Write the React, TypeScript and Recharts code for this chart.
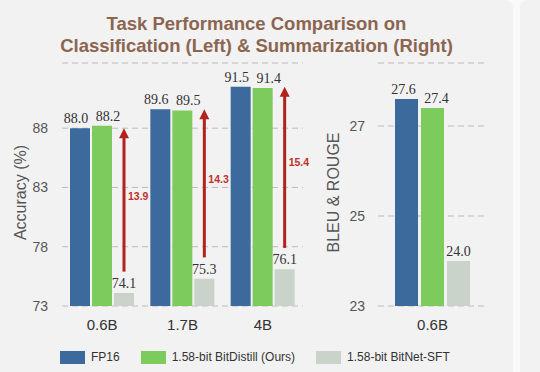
import { Bar, BarChart, CartesianGrid, LabelList, XAxis, YAxis } from "recharts";

const categories = ["0.6B", "1.7B", "4B"];
const fp16 = [88.0, 89.6, 91.5];
const bitDistill = [88.2, 89.5, 91.4];
const bitnetSft = [74.1, 75.3, 76.1];
const gains = [13.9, 14.3, 15.4];
const arrowBase = [75.9, 77.1, 77.9];
const accuracyTicks = [73, 78, 83, 88];

const sumCategories = ["0.6B"];
const sumFp16 = [27.6];
const sumDistill = [27.4];
const sumSft = [24.0];
const scoreTicks = [23, 25, 27];

const seriesNames = ["FP16", "1.58-bit BitDistill (Ours)", "1.58-bit BitNet-SFT"];
const seriesColors = ["#3D6A9D", "#7DCB5D", "#C9D3C9"];

const ACC_MIN = 73;
const SANS = '"Liberation Sans", Arial, sans-serif';
const SERIF = '"Liberation Serif", "Times New Roman", serif';

const classData = categories.map((name, i) => ({
  name,
  fp16: fp16[i],
  distill: bitDistill[i],
  sft: bitnetSft[i],
}));

const sumData = sumCategories.map((name, i) => ({
  name,
  fp16: sumFp16[i],
  distill: sumDistill[i],
  sft: sumSft[i],
}));

const fmt = (v: unknown) => Number(v).toFixed(1);

const valueLabelStyle = { fontFamily: SERIF, fontSize: 14, fill: "#333" };

// red arrow from the BitNet-SFT bar up to the FP16 level, sized off the bar's own scale
const GainArrow = (props: any) => {
  const x = Number(props.x);
  const y = Number(props.y);
  const width = Number(props.width);
  const height = Number(props.height);
  const i = props.index as number;
  const value = bitnetSft[i];
  const scale = height / (value - ACC_MIN);
  const cx = x + width / 2;
  const yBase = y - (arrowBase[i] - value) * scale;
  const yTip = y - (fp16[i] - value) * scale;
  const labelY = yBase - (yBase - yTip) * 0.53 + 4;
  return (
    <g>
      <line x1={cx} y1={yBase} x2={cx} y2={yTip + 8} stroke="#B3221E" strokeWidth={3} />
      <polygon
        points={`${cx},${yTip} ${cx - 5},${yTip + 10} ${cx + 5},${yTip + 10}`}
        fill="#B3221E"
      />
      <text
        x={cx + 4}
        y={labelY}
        fontFamily={SANS}
        fontSize={10.5}
        fontWeight="bold"
        fill="#C0302A"
      >
        {gains[i].toFixed(1)}
      </text>
    </g>
  );
};

const AxisTitle = ({ viewBox, text, cx }: any) => {
  const y = viewBox.y + viewBox.height / 2 + 8;
  return (
    <text
      x={cx}
      y={y}
      transform={`rotate(-90 ${cx} ${y})`}
      textAnchor="middle"
      dominantBaseline="central"
      fontFamily={SANS}
      fontSize={16}
      fill="#555"
    >
      {text}
    </text>
  );
};

const tickStyle = { fontFamily: SANS, fontSize: 14, fill: "#555" };
const xTickStyle = { fontFamily: SANS, fontSize: 15, fill: "#333" };

export default function App() {
  return (
    <div
      style={{
        position: "absolute",
        left: 0,
        top: 0,
        width: 540,
        height: 372,
        background: "#FAFAFA",
        overflow: "hidden",
      }}
    >
      <div
        style={{
          position: "absolute",
          left: 0,
          top: 0,
          width: 513,
          height: 372,
          background: "#F2F2F2",
          borderTopRightRadius: 8,
        }}
      />
      <div
        style={{
          position: "absolute",
          left: 520,
          top: 0,
          width: 30,
          height: 372,
          background: "#F2F2F2",
          borderTopLeftRadius: 8,
        }}
      />
      <div
        style={{
          position: "absolute",
          left: 0,
          top: 13,
          width: 513,
          textAlign: "center",
          fontFamily: SANS,
          fontWeight: "bold",
          fontSize: 18.5,
          lineHeight: "22px",
          color: "#8C6550",
        }}
      >
        Task Performance Comparison on
        <br />
        Classification (Left) &amp; Summarization (Right)
      </div>

      <div style={{ position: "absolute", left: 0, top: 0 }}>
        <BarChart
          width={310}
          height={372}
          data={classData}
          margin={{ top: 63, right: 7, bottom: 36, left: 0 }}
          barSize={20}
          barGap={2}
        >
          <CartesianGrid vertical={false} stroke="#BBBBBB" strokeDasharray="6 4" />
          <XAxis
            dataKey="name"
            axisLine={false}
            tickLine={false}
            tickMargin={7}
            tick={xTickStyle}
          />
          <YAxis
            width={62}
            domain={[ACC_MIN, 93.5]}
            ticks={accuracyTicks}
            axisLine={false}
            tickLine={false}
            tickMargin={8}
            tick={tickStyle}
            label={<AxisTitle text="Accuracy (%)" cx={20} />}
          />
          <Bar dataKey="fp16" fill={seriesColors[0]} isAnimationActive={false}>
            <LabelList dataKey="fp16" position="top" offset={5} dx={-4} formatter={fmt} style={valueLabelStyle} />
          </Bar>
          <Bar dataKey="distill" fill={seriesColors[1]} isAnimationActive={false}>
            <LabelList dataKey="distill" position="top" offset={5} dx={6} formatter={fmt} style={valueLabelStyle} />
          </Bar>
          <Bar dataKey="sft" fill={seriesColors[2]} isAnimationActive={false}>
            <LabelList dataKey="sft" position="top" offset={5} formatter={fmt} style={valueLabelStyle} />
            <LabelList dataKey="sft" content={<GainArrow />} />
          </Bar>
        </BarChart>
      </div>

      <div style={{ position: "absolute", left: 300, top: 0 }}>
        <BarChart
          width={200}
          height={372}
          data={sumData}
          margin={{ top: 63, right: 13, bottom: 36, left: 0 }}
          barSize={23}
          barGap={3}
        >
          <CartesianGrid vertical={false} stroke="#BBBBBB" strokeDasharray="6 4" />
          <XAxis
            dataKey="name"
            axisLine={false}
            tickLine={false}
            tickMargin={7}
            tick={xTickStyle}
          />
          <YAxis
            width={78}
            domain={[23, 28.4]}
            ticks={scoreTicks}
            axisLine={false}
            tickLine={false}
            tickMargin={7}
            tick={tickStyle}
            label={<AxisTitle text="BLEU & ROUGE" cx={33} />}
          />
          <Bar dataKey="fp16" fill={seriesColors[0]} isAnimationActive={false}>
            <LabelList dataKey="fp16" position="top" offset={5} dx={-3} formatter={fmt} style={valueLabelStyle} />
          </Bar>
          <Bar dataKey="distill" fill={seriesColors[1]} isAnimationActive={false}>
            <LabelList dataKey="distill" position="top" offset={5} dx={4} formatter={fmt} style={valueLabelStyle} />
          </Bar>
          <Bar dataKey="sft" fill={seriesColors[2]} isAnimationActive={false}>
            <LabelList dataKey="sft" position="top" offset={5} formatter={fmt} style={valueLabelStyle} />
          </Bar>
        </BarChart>
      </div>

      <div
        style={{
          position: "absolute",
          left: 60,
          top: 351,
          display: "flex",
          alignItems: "center",
          fontFamily: SANS,
          fontSize: 12,
          color: "#333",
          lineHeight: "13px",
        }}
      >
        {seriesNames.map((name, i) => (
          <div key={name} style={{ display: "flex", alignItems: "center", marginRight: 21 }}>
            <div style={{ width: 25, height: 13, background: seriesColors[i], marginRight: 6 }} />
            <span>{name}</span>
          </div>
        ))}
      </div>
    </div>
  );
}
